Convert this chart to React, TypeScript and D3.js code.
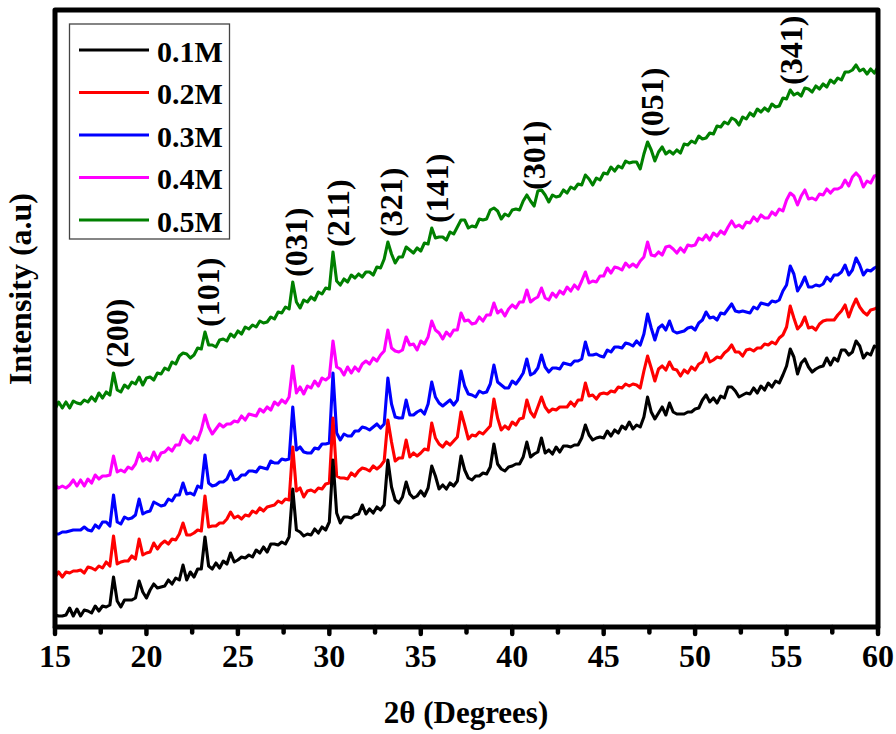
import React from "react";
import * as d3 from "d3";

const W = 896;
const H = 734;

// 2θ scan: 15° to 60°, step 0.2°
const twoTheta = d3.range(0, 226).map((i) => 15 + i * 0.2);

const seriesNames = ["0.1M", "0.2M", "0.3M", "0.4M", "0.5M"];
const seriesColors = ["#000000", "#ff0000", "#0000ff", "#ff00ff", "#008000"];

// Intensity (a.u.), stacked patterns
const int01 = [
  12, 11, 11, 12, 19, 11, 18, 11, 17, 16,
  14, 21, 16, 21, 20, 22, 50, 26, 20, 27,
  27, 27, 29, 46, 35, 29, 37, 43, 39, 40,
  41, 47, 43, 49, 47, 62, 47, 55, 50, 58,
  58, 90, 61, 58, 64, 59, 66, 63, 74, 65,
  67, 70, 69, 72, 70, 77, 74, 80, 75, 83,
  83, 82, 85, 83, 90, 138, 97, 95, 91, 93,
  92, 98, 94, 100, 97, 105, 167, 114, 104, 110,
  110, 109, 112, 113, 122, 113, 118, 114, 120, 117,
  122, 167, 140, 127, 124, 130, 145, 133, 129, 131,
  136, 131, 139, 161, 151, 138, 142, 138, 144, 141,
  146, 171, 157, 149, 147, 151, 151, 154, 153, 160,
  183, 163, 158, 156, 160, 161, 163, 163, 170, 185,
  170, 173, 175, 189, 174, 177, 173, 180, 175, 181,
  181, 180, 182, 182, 189, 202, 192, 187, 189, 190,
  189, 196, 191, 197, 194, 201, 198, 205, 198, 202,
  200, 210, 230, 215, 208, 214, 220, 212, 224, 215,
  213, 213, 213, 215, 215, 218, 219, 227, 232, 225,
  229, 224, 231, 229, 240, 240, 236, 230, 232, 234,
  233, 239, 234, 241, 237, 244, 240, 246, 244, 252,
  261, 278, 270, 253, 264, 268, 260, 255, 258, 260,
  261, 269, 262, 269, 266, 277, 277, 272, 275, 286,
  281, 269, 274, 272, 281, 279,
];

const int02 = [
  50, 55, 50, 55, 54, 56, 56, 57, 54, 60,
  59, 57, 61, 59, 65, 61, 91, 63, 65, 66,
  66, 71, 68, 88, 72, 74, 75, 84, 78, 83,
  86, 83, 88, 87, 93, 104, 92, 92, 94, 97,
  96, 131, 100, 101, 101, 104, 104, 108, 115, 109,
  111, 108, 112, 111, 116, 114, 119, 116, 120, 121,
  122, 126, 124, 128, 127, 180, 136, 139, 130, 136,
  137, 135, 139, 138, 143, 144, 209, 151, 149, 149,
  148, 154, 151, 156, 159, 158, 156, 161, 158, 161,
  166, 207, 185, 166, 169, 169, 187, 170, 174, 171,
  174, 178, 177, 204, 189, 183, 180, 185, 182, 186,
  190, 215, 202, 188, 192, 191, 195, 193, 197, 201,
  228, 209, 197, 201, 198, 205, 202, 208, 209, 227,
  215, 210, 220, 230, 220, 215, 218, 217, 220, 220,
  220, 225, 221, 227, 227, 244, 231, 232, 228, 233,
  234, 233, 236, 235, 240, 239, 243, 241, 243, 242,
  239, 256, 271, 259, 246, 258, 261, 257, 265, 258,
  257, 251, 257, 254, 260, 257, 263, 265, 274, 265,
  267, 270, 269, 274, 277, 282, 275, 275, 271, 277,
  278, 276, 279, 279, 283, 282, 285, 283, 289, 292,
  300, 321, 309, 298, 302, 310, 299, 300, 297, 303,
  306, 307, 307, 307, 312, 316, 322, 310, 320, 328,
  320, 315, 312, 317, 318, 320,
];

const int03 = [
  93, 93, 95, 95, 96, 97, 97, 97, 100, 97,
  96, 102, 99, 105, 105, 101, 132, 105, 103, 110,
  108, 109, 112, 128, 113, 115, 116, 125, 123, 121,
  122, 128, 126, 132, 132, 144, 133, 134, 132, 141,
  139, 172, 144, 141, 142, 145, 145, 148, 156, 147,
  148, 152, 152, 156, 156, 155, 160, 159, 158, 166,
  164, 164, 168, 167, 168, 220, 177, 180, 175, 174,
  174, 179, 178, 183, 183, 184, 254, 194, 187, 193,
  191, 191, 196, 196, 200, 199, 197, 200, 203, 199,
  203, 249, 223, 210, 209, 209, 227, 212, 212, 215,
  217, 213, 223, 245, 230, 224, 221, 224, 227, 222,
  227, 256, 241, 233, 232, 230, 236, 234, 235, 243,
  262, 245, 242, 239, 239, 246, 243, 248, 254, 268,
  252, 254, 259, 272, 260, 255, 259, 259, 258, 264,
  263, 262, 266, 266, 268, 285, 272, 272, 273, 271,
  270, 277, 275, 280, 280, 279, 284, 283, 281, 286,
  282, 293, 313, 299, 287, 299, 302, 297, 306, 296,
  294, 295, 296, 299, 300, 297, 304, 307, 315, 309,
  310, 307, 314, 313, 318, 323, 316, 315, 316, 315,
  314, 320, 318, 324, 323, 322, 326, 325, 327, 336,
  342, 361, 353, 336, 342, 350, 340, 340, 342, 341,
  343, 350, 346, 352, 352, 355, 362, 352, 357, 369,
  362, 352, 357, 356, 359, 361,
];

const int04 = [
  142, 139, 141, 139, 142, 147, 141, 147, 141, 148,
  144, 152, 148, 151, 151, 152, 171, 155, 157, 155,
  160, 158, 163, 174, 166, 169, 166, 175, 167, 174,
  175, 179, 176, 182, 182, 192, 187, 184, 190, 187,
  197, 212, 200, 193, 198, 203, 200, 203, 203, 206,
  205, 211, 207, 213, 212, 211, 218, 215, 220, 217,
  225, 222, 227, 224, 230, 261, 234, 240, 233, 241,
  239, 246, 241, 249, 247, 250, 286, 260, 258, 252,
  260, 254, 260, 256, 263, 266, 263, 269, 266, 272,
  276, 297, 279, 276, 275, 277, 290, 282, 283, 277,
  286, 283, 290, 306, 297, 294, 288, 295, 291, 297,
  297, 314, 306, 307, 303, 304, 310, 306, 312, 312,
  324, 314, 317, 311, 318, 322, 319, 325, 325, 337,
  325, 328, 330, 339, 329, 327, 334, 330, 336, 333,
  340, 336, 342, 338, 346, 355, 344, 346, 345, 351,
  351, 359, 354, 360, 359, 357, 364, 360, 363, 360,
  366, 370, 385, 372, 371, 375, 372, 380, 381, 378,
  374, 379, 375, 382, 381, 382, 389, 387, 392, 387,
  394, 391, 396, 393, 400, 406, 400, 402, 399, 405,
  404, 410, 406, 412, 409, 409, 415, 412, 418, 416,
  427, 434, 431, 422, 431, 437, 428, 429, 427, 433,
  432, 438, 434, 438, 438, 440, 447, 441, 450, 454,
  450, 440, 446, 444, 451, 452,
];

const int05 = [
  218, 225, 219, 225, 219, 226, 224, 223, 227, 225,
  230, 226, 234, 229, 235, 232, 254, 237, 235, 242,
  239, 245, 243, 250, 242, 249, 250, 247, 254, 253,
  259, 257, 265, 263, 271, 274, 273, 269, 272, 279,
  278, 295, 282, 282, 280, 287, 288, 286, 293, 290,
  296, 293, 300, 298, 302, 300, 306, 304, 305, 310,
  308, 315, 314, 320, 318, 345, 325, 319, 327, 325,
  330, 327, 335, 333, 339, 338, 375, 346, 342, 348,
  345, 352, 349, 353, 350, 355, 355, 352, 360, 359,
  368, 385, 373, 364, 370, 370, 380, 377, 374, 379,
  376, 384, 383, 399, 389, 390, 390, 387, 395, 393,
  400, 407, 407, 399, 401, 400, 408, 407, 408, 417,
  419, 416, 408, 413, 411, 417, 418, 417, 426, 432,
  426, 421, 436, 437, 432, 425, 432, 430, 431, 437,
  434, 440, 438, 443, 442, 452, 448, 442, 449, 447,
  454, 453, 460, 456, 461, 459, 466, 464, 465, 465,
  458, 473, 485, 477, 466, 475, 480, 473, 476, 473,
  477, 474, 483, 482, 486, 484, 491, 488, 489, 494,
  493, 501, 500, 505, 503, 509, 507, 502, 510, 508,
  514, 511, 518, 515, 519, 516, 523, 520, 521, 529,
  528, 537, 532, 534, 531, 539, 538, 535, 541, 538,
  543, 540, 547, 544, 549, 547, 555, 555, 557, 562,
  556, 558, 553, 558, 554, 560,
];

const seriesValues = [int01, int02, int03, int04, int05];

// Reflections marked above the 0.5M pattern
const hklLabels = ["(200)", "(101)", "(031)", "(211)", "(321)", "(141)", "(301)", "(051)", "(341)"];
const hklAngles = [18.2, 23.2, 28.0, 30.3, 33.2, 35.7, 41.0, 47.5, 55.1];

const xTickValues = [15, 20, 25, 30, 35, 40, 45, 50, 55, 60];
const xMinorTickValues = [17.5, 22.5, 27.5, 32.5, 37.5, 42.5, 47.5, 52.5, 57.5];

const FONT = "'Liberation Serif', 'Times New Roman', Times, serif";

export default function App() {
  const left = 55;
  const right = 878;
  const top = 10;
  const bottom = 627;

  const x = d3.scaleLinear().domain([15, 60]).range([left, right]);
  const y = d3.scaleLinear().domain([0, 617]).range([bottom, top]);

  const line = d3
    .line<number>()
    .x((_, i) => x(twoTheta[i]))
    .y((d) => y(d));

  const green = seriesValues[4];
  const labelBase = (theta: number) => {
    let best = -Infinity;
    twoTheta.forEach((t, i) => {
      if (Math.abs(t - theta) <= 0.31 && green[i] > best) best = green[i];
    });
    return y(best) - 5;
  };

  const order = [4, 3, 2, 1, 0];

  return (
    <svg
      width={W}
      height={H}
      viewBox={`0 0 ${W} ${H}`}
      style={{ position: "absolute", left: 0, top: 0, background: "#ffffff" }}
    >
      <rect x={0} y={0} width={W} height={H} fill="#ffffff" />

      {/* patterns */}
      <g fill="none" strokeWidth={3.1} strokeLinejoin="round">
        {order.map((k) => (
          <path key={seriesNames[k]} d={line(seriesValues[k]) || ""} stroke={seriesColors[k]} />
        ))}
      </g>

      {/* reflection labels */}
      <g fontFamily={FONT} fontWeight="bold" fontSize={32} fill="#000">
        {hklLabels.map((lab, i) => {
          const cx = x(hklAngles[i]) + 3;
          const by = labelBase(hklAngles[i]);
          return (
            <text
              key={lab}
              transform={`translate(${cx},${by}) rotate(-90)`}
              textAnchor="start"
              dominantBaseline="central"
            >
              {lab}
            </text>
          );
        })}
      </g>

      {/* frame */}
      <rect
        x={left}
        y={top}
        width={right - left}
        height={bottom - top}
        fill="none"
        stroke="#000"
        strokeWidth={5}
        strokeLinejoin="round"
      />

      {/* x ticks */}
      <g stroke="#000" strokeWidth={4.5} strokeLinecap="round">
        {xTickValues.map((t) => (
          <line key={`M${t}`} x1={x(t)} x2={x(t)} y1={bottom} y2={bottom + 7} />
        ))}
        {xMinorTickValues.map((t) => (
          <line key={`m${t}`} x1={x(t)} x2={x(t)} y1={bottom} y2={bottom + 5.5} />
        ))}
      </g>
      <g fontFamily={FONT} fontWeight="bold" fontSize={32} fill="#000" textAnchor="middle">
        {xTickValues.map((t) => (
          <text key={t} x={x(t)} y={667}>
            {t}
          </text>
        ))}
      </g>

      {/* axis titles */}
      <text
        x={466}
        y={723}
        fontFamily={FONT}
        fontWeight="bold"
        fontSize={31}
        textAnchor="middle"
      >
        2θ (Degrees)
      </text>
      <text
        transform={`translate(31,289) rotate(-90)`}
        fontFamily={FONT}
        fontWeight="bold"
        fontSize={32}
        textAnchor="middle"
      >
        Intensity (a.u)
      </text>

      {/* legend */}
      <rect x={69.5} y={24} width={160} height={215} fill="#ffffff" stroke="#444" strokeWidth={1.3} />
      {seriesNames.map((name, i) => {
        const ry = 50 + i * 42.5;
        return (
          <g key={name}>
            <line x1={79} x2={149} y1={ry} y2={ry} stroke={seriesColors[i]} strokeWidth={3} />
            <text
              x={157}
              y={ry + 11.5}
              fontFamily={FONT}
              fontWeight="bold"
              fontSize={30}
              fill="#000"
            >
              {name}
            </text>
          </g>
        );
      })}
    </svg>
  );
}
